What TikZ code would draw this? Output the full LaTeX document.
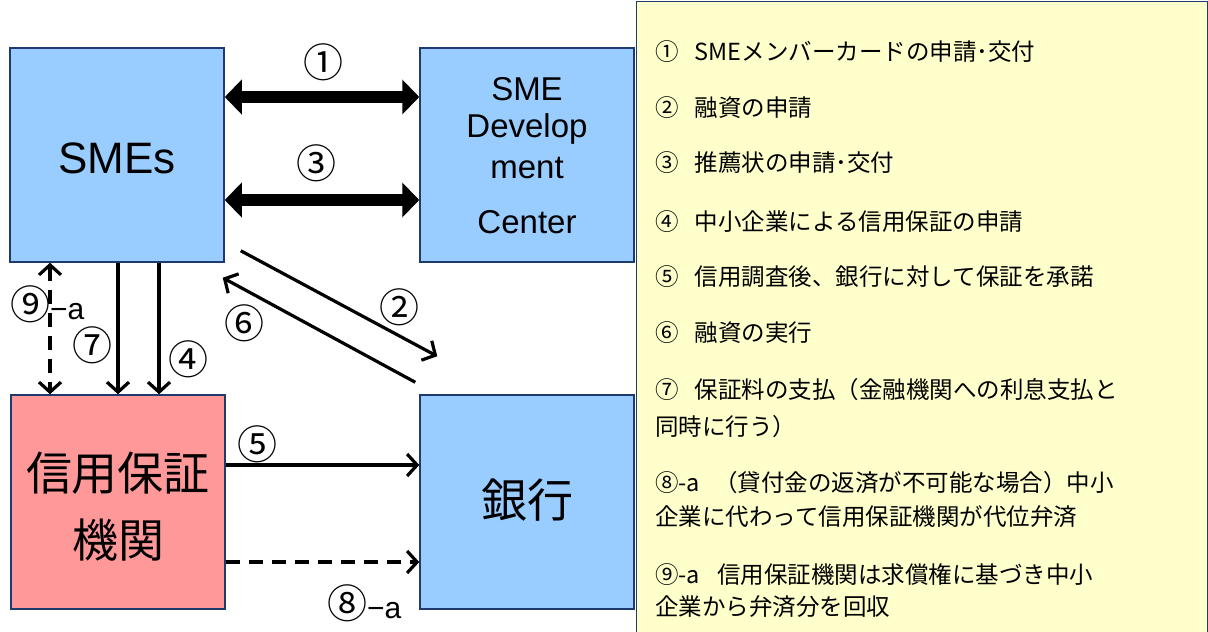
\documentclass[tikz,border=0pt]{standalone}
\usepackage{fontspec}
\setmainfont{Liberation Sans}
\newfontfamily\cjk{Noto Sans CJK JP}
\usetikzlibrary{arrows.meta}
\definecolor{boxblue}{HTML}{99CCFF}
\definecolor{boxpink}{HTML}{FF9999}
\definecolor{boxyellow}{HTML}{FFFFCC}
\definecolor{navy}{HTML}{1F3A6E}
\tikzset{
  ent/.style={draw=navy, line width=1.5pt, minimum width=214pt, minimum height=214pt, inner sep=0pt},
  bigarrow/.style={line width=12pt, {Triangle[width=34pt,length=17pt]}-{Triangle[width=34pt,length=17pt]}},
  flowarrow/.style={line width=3.2pt, -{Straight Barb[length=10pt,width=22pt,line width=3.2pt]}},
  dashline/.style={line width=3.2pt, dash pattern=on 14pt off 9pt},
  lbl/.style={font=\cjk\fontsize{40}{40}\selectfont, inner sep=0pt},
  item/.style={font=\cjk\fontsize{23.5}{23.5}\selectfont, anchor=west, inner sep=0pt},
  devtext/.style={font=\fontsize{33}{33}\selectfont},
}
\begin{document}
\begin{tikzpicture}[x=1pt,y=-1pt]
\useasboundingbox (0,0) rectangle (1208,632);
% legend box
\node[draw=navy, line width=1.2pt, fill=boxyellow, minimum width=571pt, minimum height=631pt, anchor=north west, inner sep=0pt] (legend) at (636,1) {};
% entities
\node[ent, fill=boxblue] (smes) at (117,155) {};
\node[ent, fill=boxblue] (dev) at (527,155) {};
\node[ent, fill=boxpink] (cgo) at (118,502) {};
\node[ent, fill=boxblue] (bank) at (527,502) {};
\node[font=\fontsize{44}{44}\selectfont] (smest) at (117,158) {SMEs};
\node[devtext] (devt1) at (527,89) {SME};
\node[devtext] (devt2) at (527,129) {Develop};
\node[devtext] (devt3) at (527,168) {ment};
\node[devtext] (devt4) at (527,222) {Center};
\node[font=\cjk\fontsize{46}{46}\selectfont] (cgot1) at (118,473) {信用保証};
\node[font=\cjk\fontsize{46}{46}\selectfont] (cgot2) at (118,540) {機関};
\node[font=\cjk\fontsize{46}{46}\selectfont] (bankt) at (527,500) {銀行};
% arrows
\draw[bigarrow] ([yshift=58pt]smes.east) -- ([yshift=58pt]dev.west);
\draw[bigarrow] ([yshift=-45pt]smes.east) -- ([yshift=-45pt]dev.west);
\draw[flowarrow] ([xshift=16pt,yshift=12pt]smes.south east) -- ([xshift=18pt,yshift=38pt]bank.north west);
\draw[flowarrow] ([xshift=-4pt,yshift=12pt]bank.north west) -- ([xshift=-2pt,yshift=-15pt]smes.south east);
\draw[flowarrow] ([xshift=1pt]smes.south) -- ([xshift=1pt]smes.south |- cgo.north);
\draw[flowarrow] ([xshift=42pt]smes.south) -- ([xshift=42pt]smes.south |- cgo.north);
\draw[dashline, {Straight Barb[length=10pt,width=22pt,line width=3.2pt]}-{Straight Barb[length=10pt,width=22pt,line width=3.2pt]}] ([xshift=-67pt]smes.south) -- ([xshift=-67pt]smes.south |- cgo.north);
\draw[flowarrow] ([yshift=37pt]cgo.east) -- ([yshift=37pt]cgo.east -| bank.west);
\draw[dashline, -{Straight Barb[length=10pt,width=22pt,line width=3.2pt]}] ([yshift=-60pt]cgo.east) -- ([yshift=-60pt]cgo.east -| bank.west);
% labels
\node[lbl] (l1) at (323,62) {①};
\node[lbl] (l3) at (316,163) {③};
\node[lbl] (l2) at (399,307) {②};
\node[lbl] (l6) at (244,323) {⑥};
\node[lbl] (l7) at (92,345) {⑦};
\node[lbl] (l4) at (188,359) {④};
\node[lbl] (l5) at (257,444) {⑤};
\node[lbl, anchor=west] (l9) at (10,304) {⑨\fontspec{Liberation Sans}\fontsize{30}{30}\selectfont−a};
\node[lbl, anchor=west] (l8) at (327,603) {⑧\fontspec{Liberation Sans}\fontsize{30}{30}\selectfont−a};
% legend text
\node[item] (t1) at (655,52) {①\hspace{16pt}SMEメンバーカードの申請･交付};
\node[item] (t2) at (655,108) {②\hspace{16pt}融資の申請};
\node[item] (t3) at (655,163) {③\hspace{16pt}推薦状の申請･交付};
\node[item] (t4) at (655,222) {④\hspace{16pt}中小企業による信用保証の申請};
\node[item] (t5) at (655,277) {⑤\hspace{16pt}信用調査後、銀行に対して保証を承諾};
\node[item] (t6) at (655,333) {⑥\hspace{16pt}融資の実行};
\node[item] (t7) at (655,390) {⑦\hspace{16pt}保証料の支払（金融機関への利息支払と};
\node[item] (t7b) at (655,427) {同時に行う）};
\node[item] (t8) at (655,483) {⑧-a\hspace{14pt}（貸付金の返済が不可能な場合）中小};
\node[item] (t8b) at (655,517) {企業に代わって信用保証機関が代位弁済};
\node[item] (t9) at (655,575) {⑨-a\hspace{17pt}信用保証機関は求償権に基づき中小};
\node[item] (t9b) at (655,607) {企業から弁済分を回収};
\end{tikzpicture}
\end{document}
